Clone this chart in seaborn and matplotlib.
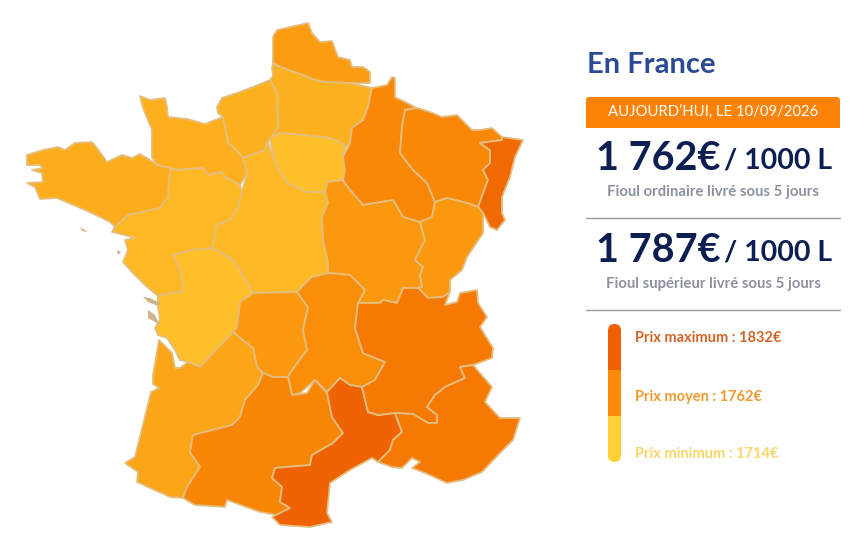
# Fioul prices per region, drawn on a hand traced map of France
import matplotlib
matplotlib.use('Agg')
import matplotlib.pyplot as plt
import seaborn as sns
from matplotlib.colors import TwoSlopeNorm
from matplotlib.patches import FancyBboxPatch, Polygon, Rectangle

# Prices
regions = ['Nord', 'Picardie', 'Haute-Normandie', 'Basse-Normandie', 'Bretagne', 'Pays de la Loire',
           'Centre', 'Ile-de-France', 'Champagne', 'Lorraine', 'Alsace', 'Bourgogne', 'Franche-Comte',
           'Poitou-Charentes', 'Limousin', 'Auvergne', 'Aquitaine', 'Midi-Pyrenees', 'Languedoc',
           'Rhone-Alpes', 'PACA']
prices = [1750, 1736, 1736, 1737, 1738, 1731, 1730, 1726, 1766, 1766, 1817, 1753, 1753,
          1726, 1752, 1760, 1744, 1772, 1827, 1791, 1791]

price_min, price_avg, price_max = 1714, 1762, 1832
price_labels = ['Prix maximum : 1832€', 'Prix moyen : 1762€', 'Prix minimum : 1714€']
scale_colors = ['#FFD033', '#FB8B06', '#EE6002']
label_colors = ['#D2642A', '#F0992E', '#F8D66B']

date_label = 'AUJOURD’HUI, LE 10/09/2026'
offer_prices = ['1 762€', '1 787€']
offer_names = ['Fioul ordinaire livré sous 5 jours', 'Fioul supérieur livré sous 5 jours']

outlines = {
    'Nord': [(273,37),(277,30),(308,23),(312,33),(320,42),(332,41),(338,57),(350,60),(352,67),(363,67),(370,72),(370,83),(350,83),(325,82),(315,80),(303,75),(283,68),(273,63)],
    'Picardie': [(273,64),(283,68),(303,75),(315,80),(325,82),(350,83),(372,88),(368,107),(363,120),(352,128),(350,143),(345,148),(342,143),(330,138),(303,135),(280,133),(270,138),(278,127),(277,93),(270,80),(273,76),(272,68)],
    'Haute-Normandie': [(217,107),(222,98),(240,92),(263,83),(270,80),(277,93),(278,127),(268,142),(265,150),(243,158),(238,152),(228,143),(223,117),(218,113)],
    'Basse-Normandie': [(140,96),(150,100),(165,98),(167,107),(168,117),(187,119),(205,124),(223,117),(228,143),(238,152),(243,158),(247,173),(240,185),(225,177),(222,172),(208,175),(203,168),(177,170),(157,165),(152,157),(152,130),(143,108)],
    'Bretagne': [(27,155),(43,150),(58,147),(65,150),(75,143),(92,142),(97,148),(107,162),(122,155),(132,158),(140,154),(150,160),(157,165),(170,168),(168,197),(160,208),(128,215),(115,227),(110,222),(100,217),(85,210),(57,198),(40,199),(35,187),(27,183),(43,182),(42,173),(32,170),(43,168),(40,165),(27,165)],
    'Pays de la Loire': [(170,168),(177,170),(203,168),(208,175),(222,172),(225,177),(240,185),(242,192),(238,207),(230,220),(217,225),(212,248),(193,250),(173,255),(180,270),(182,285),(182,292),(170,293),(158,296),(145,285),(132,272),(123,262),(128,250),(125,240),(135,238),(125,235),(112,232),(115,227),(128,215),(160,208),(168,197)],
    'Centre': [(243,158),(265,150),(268,142),(275,163),(287,183),(307,192),(325,192),(328,203),(322,217),(323,240),(328,263),(328,275),(312,277),(297,292),(253,293),(248,285),(240,270),(230,258),(212,248),(217,225),(230,220),(238,207),(242,192),(247,173)],
    'Ile-de-France': [(270,138),(280,133),(303,135),(330,138),(342,143),(345,148),(343,157),(345,170),(342,180),(328,182),(325,192),(307,192),(287,183),(275,163)],
    'Champagne': [(372,88),(387,85),(392,77),(395,78),(395,97),(417,108),(405,110),(402,127),(400,153),(413,170),(427,183),(435,202),(432,217),(420,222),(403,217),(393,200),(363,205),(350,190),(343,180),(345,170),(343,157),(350,143),(352,128),(363,120),(368,107)],
    'Lorraine': [(405,110),(417,108),(430,112),(442,117),(457,115),(472,130),(480,130),(492,128),(502,137),(502,140),(480,143),(490,150),(490,163),(483,170),(488,180),(478,207),(467,203),(447,198),(435,202),(427,183),(413,170),(400,153),(402,127)],
    'Alsace': [(480,143),(502,140),(502,137),(523,140),(515,157),(510,177),(502,197),(502,213),(505,220),(497,230),(490,227),(483,213),(478,207),(488,180),(483,170),(490,163),(490,150)],
    'Bourgogne': [(328,182),(342,180),(350,190),(363,205),(393,200),(403,217),(420,222),(425,240),(415,260),(423,267),(420,275),(422,287),(418,288),(403,288),(397,303),(383,300),(380,303),(358,303),(365,290),(350,275),(328,273),(328,263),(323,240),(322,217),(328,203),(325,192)],
    'Franche-Comte': [(435,202),(447,198),(467,203),(478,207),(483,213),(483,233),(467,257),(462,270),(450,280),(450,292),(443,297),(428,298),(418,288),(422,287),(420,275),(423,267),(415,260),(425,240),(420,222),(432,217)],
    'Poitou-Charentes': [(173,255),(193,250),(212,248),(230,258),(240,270),(248,285),(253,293),(240,302),(237,327),(233,332),(213,353),(200,367),(188,362),(180,360),(175,350),(167,338),(158,335),(155,328),(160,320),(158,307),(158,296),(170,293),(182,292),(182,285),(180,270)],
    'Limousin': [(240,302),(253,293),(297,292),(308,307),(303,330),(307,350),(290,373),(288,377),(273,377),(263,373),(257,367),(253,348),(240,338),(233,332),(237,327)],
    'Auvergne': [(297,292),(312,277),(328,273),(350,275),(365,290),(358,303),(355,328),(363,353),(385,362),(375,380),(362,387),(350,385),(340,378),(327,392),(315,380),(300,393),(292,395),(288,377),(290,373),(307,350),(303,330),(308,307)],
    'Aquitaine': [(159,340),(172,353),(175,368),(180,368),(188,362),(200,367),(213,353),(233,332),(240,338),(253,348),(257,367),(263,373),(258,385),(245,400),(240,417),(232,425),(193,435),(190,452),(200,467),(187,487),(183,498),(170,497),(137,482),(138,472),(125,463),(135,457),(151,392),(159,388),(153,384),(153,375)],
    'Midi-Pyrenees': [(263,373),(273,377),(288,377),(292,395),(307,393),(315,380),(327,393),(332,417),(343,433),(333,443),(312,455),(310,465),(275,468),(272,478),(282,487),(280,502),(290,508),(277,515),(260,512),(227,500),(225,507),(195,505),(183,498),(187,487),(200,467),(190,452),(193,435),(232,425),(240,417),(245,400),(258,385)],
    'Languedoc': [(327,392),(340,378),(350,385),(362,387),(368,412),(378,415),(395,413),(402,432),(393,440),(390,450),(378,462),(372,458),(350,470),(330,483),(327,513),(332,522),(310,527),(280,525),(272,517),(290,508),(280,502),(282,487),(272,478),(275,468),(310,465),(312,455),(333,443),(343,433),(332,417)],
    'Rhone-Alpes': [(358,303),(380,303),(383,300),(397,303),(403,288),(418,288),(428,298),(443,297),(450,292),(445,305),(457,302),(460,293),(477,290),(478,303),(487,317),(480,327),(493,348),(492,358),(473,365),(460,367),(465,378),(445,387),(435,395),(427,407),(437,415),(437,423),(428,423),(413,414),(395,413),(378,415),(368,412),(362,387),(375,380),(385,362),(363,353),(355,328)],
    'PACA': [(460,367),(473,365),(492,387),(485,402),(500,418),(520,418),(513,440),(500,453),(482,472),(463,480),(447,483),(425,473),(412,468),(420,462),(412,458),(402,468),(392,467),(378,462),(390,450),(393,440),(402,432),(395,413),(413,414),(428,423),(437,423),(437,415),(427,407),(435,395),(445,387),(465,378)],
}
islands = [
    [(143,297),(150,298),(160,303),(158,306),(148,302)],
    [(148,310),(155,315),(160,325),(155,322),(148,318)],
    [(80,227),(88,232),(82,231)],
    [(117,250),(121,252),(118,255)],
]

sns.set_theme(style='white')
plt.rcParams['font.family'] = ['Lato', 'DejaVu Sans']

fig = plt.figure(figsize=(8.67, 5.46), dpi=100)
ax = fig.add_axes([0, 0, 1, 1])
ax.set_xlim(0, 867)
ax.set_ylim(546, 0)
ax.axis('off')

# Map
cmap = sns.blend_palette(scale_colors, as_cmap=True)
norm = TwoSlopeNorm(vmin=price_min, vcenter=price_avg, vmax=price_max)
for name, price in zip(regions, prices):
    ax.add_patch(Polygon(outlines[name], closed=True, facecolor=cmap(norm(price)),
                         edgecolor='#E3BE80', linewidth=1.3, joinstyle='round'))
for shape in islands:
    ax.add_patch(Polygon(shape, closed=True, facecolor='#CDB48A', edgecolor='none'))

# Panel on the right
ax.text(587, 65, 'En France', color='#2A4A96', fontsize=21, fontweight='bold', ha='left', va='center')

ax.add_patch(FancyBboxPatch((586, 97), 254, 31, boxstyle='round,pad=0,rounding_size=3',
                            facecolor='#FC8208', edgecolor='none'))
ax.add_patch(Rectangle((586, 112), 254, 16, facecolor='#FC8208', edgecolor='none'))
ax.text(713, 112.5, date_label, color='white', fontsize=10.7, ha='center', va='center')

for i, top in enumerate([157, 249]):
    ax.text(596, top + 2, offer_prices[i], color='#0D1F52', fontsize=28.5, fontweight='bold', ha='left', va='center')
    ax.text(724, top + 4, '/ 1000 L', color='#0D1F52', fontsize=20.5, fontweight='bold', ha='left', va='center')
    ax.text(713, top + 35, offer_names[i], color='#8C919E', fontsize=10.7, fontweight='bold', ha='center', va='center')
    ax.plot([586, 840], [top + 61, top + 61], color='#9A9A9A', linewidth=1)

# Colour strip of the legend, rounded at both ends
clip = FancyBboxPatch((608, 324), 13, 138, boxstyle='round,pad=0,rounding_size=6.5',
                      facecolor='none', edgecolor='none', transform=ax.transData)
ax.add_patch(clip)
for i, color in enumerate(scale_colors[::-1]):
    strip = Rectangle((608, 324 + i * 46), 13, 46, facecolor=color, edgecolor='none')
    ax.add_patch(strip)
    strip.set_clip_path(clip)

for y, label, color in zip([338, 397, 454], price_labels, label_colors):
    ax.text(635, y, label, color=color, fontsize=10.5, fontweight='bold', ha='left', va='center')

fig.savefig('out.png', dpi=100, facecolor='white')
